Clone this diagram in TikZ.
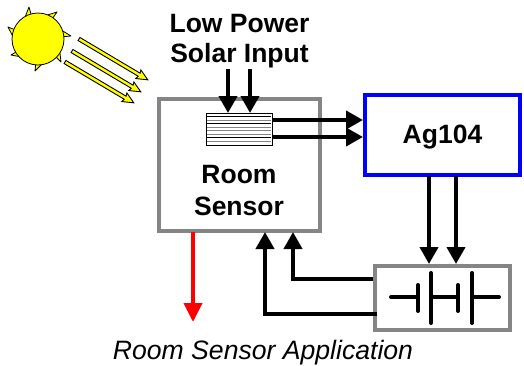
\documentclass[tikz,border=0pt]{standalone}
\usepackage{fontspec}
\setmainfont{Liberation Sans}
\usetikzlibrary{arrows.meta}
\definecolor{boxgray}{HTML}{858585}
\definecolor{sunyellow}{HTML}{FFFF00}
\tikzset{
  x=1pt,y=-1pt,
  frame/.style={draw=boxgray,line width=4pt,fill=white,minimum width=0pt},
  lbl/.style={font=\bfseries\fontsize{26.5}{26.5}\selectfont,inner sep=0pt,align=center},
  arr/.style={line width=4pt,draw=black,-{Triangle[length=17pt,width=18pt]}},
  wire/.style={line width=4pt,line cap=round},
  ray/.style={draw=black,line width=0.8pt,fill=sunyellow,line join=round},
  beam/.style={draw=black,line width=0.9pt,fill=sunyellow,line join=miter},
}
\begin{document}
\begin{tikzpicture}
\useasboundingbox (0,0) rectangle (524,365);
% sun
\coordinate (sc) at (38,39);
\foreach \tx/\ty/\a in {29/7/-106,57/12/-55,71/36/-5,61/62/45,35/71/95,11/55/150,8/27/-160}{
  \filldraw[ray] (sc) ++(\a-19:24) -- (\tx,\ty) -- (sc) ++(\a+19:24) -- cycle;
}
\node[circle,draw=black,line width=0.8pt,fill=sunyellow,minimum size=52pt,inner sep=0pt] (sun) at (sc) {};
% beams
\foreach \n/\ax/\ay in {a/79/39,b/72/51,c/65/62}{
  \coordinate (s\n) at (\ax,\ay);
  \filldraw[beam,shift={(s\n)},rotate=-30.7] (0,-1.8) -- (70,-1.8) -- (69,-5) -- (80,0) -- (69,5) -- (70,1.8) -- (0,1.8) -- cycle;
}
% boxes
\node[frame,minimum width=161pt,minimum height=131.5pt,inner sep=0pt] (room) at (239.5,164.75) {};
\node[draw=blue,line width=4pt,fill=white,minimum width=155pt,minimum height=80pt,inner sep=0pt] (ag) at (442.5,135) {};
\node[frame,minimum width=135pt,minimum height=64pt,inner sep=0pt] (bat) at (442.5,298) {};
% solar cell
\node[draw=black,line width=1pt,fill=white,minimum width=66pt,minimum height=32pt,inner sep=0pt] (cell) at (239,129) {};
\foreach \y/\c in {116/black,120/boxgray,123.5/black,127/boxgray,130.5/boxgray,134/boxgray,137/black,141/boxgray}{
  \draw[\c,line width=0.9pt] (207,\y) -- (271,\y);
}
% labels
\node[lbl] (t1) at (239.5,24) {Low Power};
\node[lbl] (t2) at (239.5,56) {Solar Input};
\node[lbl] (t3) at (239,175) {Room};
\node[lbl] (t4) at (239,206) {Sensor};
\node[lbl] (t5) at (442.5,137) {Ag104};
\node[inner sep=0pt,font=\itshape\fontsize{26.6}{26.6}\selectfont] (t6) at (263,353) {Room Sensor Application};
% connector anchors
\coordinate (i1) at (228,69);  \coordinate (i1e) at (228,113);
\coordinate (i2) at (250,69);  \coordinate (i2e) at (250,113);
\coordinate (o1) at (272,120); \coordinate (o1e) at (363,120);
\coordinate (o2) at (272,137); \coordinate (o2e) at (363,137);
\coordinate (d1) at (429,176); \coordinate (d1e) at (429,264);
\coordinate (d2) at (456,176); \coordinate (d2e) at (456,264);
\coordinate (f1) at (373,279); \coordinate (f1m) at (293,279); \coordinate (f1e) at (293,232);
\coordinate (f2) at (377,314); \coordinate (f2m) at (265,314); \coordinate (f2e) at (265,232);
\coordinate (r1) at (193,232); \coordinate (r1e) at (193,322);
\draw[arr] (i1) -- (i1e);
\draw[arr] (i2) -- (i2e);
\draw[arr] (o1) -- (o1e);
\draw[arr] (o2) -- (o2e);
\draw[arr] (d1) -- (d1e);
\draw[arr] (d2) -- (d2e);
\draw[arr] (f1) -- (f1m) -- (f1e);
\draw[arr] (f2) -- (f2m) -- (f2e);
\draw[arr,draw=red,-{Triangle[length=19pt,width=18pt,fill=red]}] (r1) -- (r1e);
% battery
\draw[wire] (391,297) -- (418,297);
\draw[wire] (418,285) -- (418,311);
\draw[wire] (431,273) -- (431,323);
\draw[wire] (431,297) -- (458,297);
\draw[wire] (458,285) -- (458,311);
\draw[wire] (472,273) -- (472,323);
\draw[wire] (472,297) -- (499,297);
\end{tikzpicture}
\end{document}
